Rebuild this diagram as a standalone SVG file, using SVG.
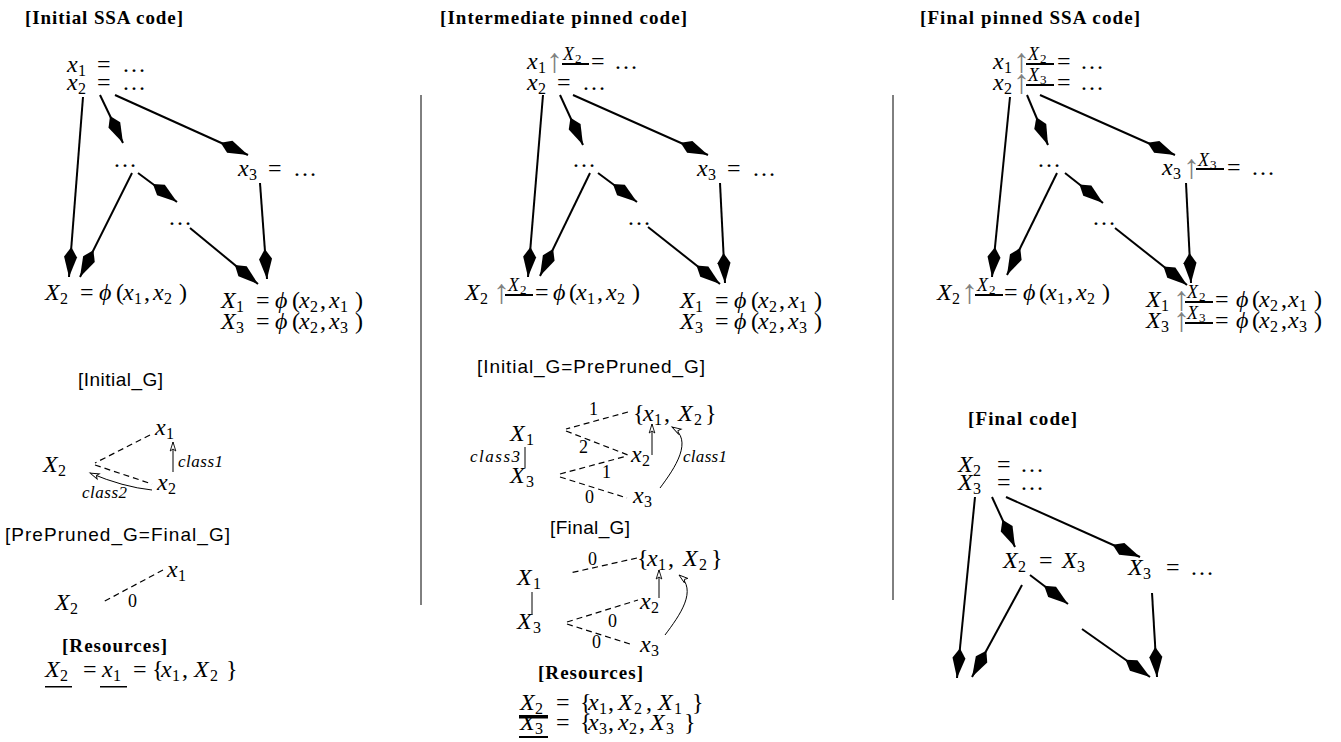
<svg xmlns="http://www.w3.org/2000/svg" width="1341" height="742" viewBox="0 0 1341 742">
<style>
text{fill:#000}
.m{font-family:"Liberation Serif","DejaVu Serif",serif;font-size:24px;font-style:italic}
.u{font-style:normal}
.s{font-size:16px;font-style:normal}
.t{font-size:18px}
.tt{font-size:13px;font-style:normal}
.g{fill:#808080;font-style:normal;font-size:34px}
.h{font-family:"Liberation Serif",serif;font-weight:bold;font-size:19px}
.sf{font-family:"Liberation Sans",Arial,sans-serif;font-size:19px}
.c{font-family:"Liberation Serif",serif;font-style:italic;font-size:17px}
.n{font-family:"Liberation Serif",serif;font-size:18px}
.e{stroke:#000;stroke-width:2;fill:none}
.d{stroke:#000;stroke-width:1.2;stroke-dasharray:6 4;fill:none}
.a{stroke:#000;stroke-width:1;fill:none}
.sep{stroke:#000;stroke-width:1}
</style>
<defs>
<marker id="ah" markerUnits="userSpaceOnUse" markerWidth="32" markerHeight="16" viewBox="-31 -8 32 16" refX="0" refY="0" orient="auto"><path d="M0,0 L-20,-6.5 L-30,0 L-20,6.5 Z" fill="#000"/></marker>
<marker id="oa" markerUnits="userSpaceOnUse" markerWidth="14" markerHeight="10" viewBox="-11 -5 14 10" refX="0" refY="0" orient="auto"><path d="M0,0 L-9,-2.8 L-7,0 L-9,2.8 Z" fill="#fff" stroke="#000" stroke-width="0.9"/></marker>
</defs>

<g id="titles">
<text class="h" x="25" y="24" textLength="158">[Initial SSA code]</text>
<text class="h" x="440" y="24" textLength="247">[Intermediate pinned code]</text>
<text class="h" x="920" y="24" textLength="220">[Final pinned SSA code]</text>
<text class="sf" x="78" y="386" textLength="85">[Initial_G]</text>
<text class="sf" x="5" y="541" textLength="225">[PrePruned_G=Final_G]</text>
<text class="h" x="62" y="652" textLength="105">[Resources]</text>
<text class="sf" x="477" y="373" textLength="228">[Initial_G=PrePruned_G]</text>
<text class="sf" x="550" y="534" textLength="80">[Final_G]</text>
<text class="h" x="538" y="679" textLength="105">[Resources]</text>
<text class="h" x="968" y="425" textLength="109">[Final code]</text>
</g>

<g id="separators">
<line class="sep" x1="421" y1="95" x2="421" y2="605"/>
<line class="sep" x1="893" y1="95" x2="893" y2="600"/>
</g>

<!-- LEFT: initial SSA code -->
<g id="l-x1"><text class="m"><tspan x="67" y="72">x</tspan><tspan class="s" x="78" y="76">1</tspan><tspan class="u" x="97" y="72">=</tspan><tspan class="u" x="122" y="72">…</tspan></text></g>
<g id="l-x2"><text class="m"><tspan x="67" y="90">x</tspan><tspan class="s" x="78" y="94">2</tspan><tspan class="u" x="97" y="90">=</tspan><tspan class="u" x="122" y="90">…</tspan></text></g>
<g id="l-dots1"><text class="m u" x="113" y="167">…</text></g>
<g id="l-x3"><text class="m"><tspan x="238" y="176">x</tspan><tspan class="s" x="249" y="180">3</tspan><tspan class="u" x="268" y="176">=</tspan><tspan class="u" x="293" y="176">…</tspan></text></g>
<g id="l-dots2"><text class="m u" x="168" y="225">…</text></g>
<g id="l-X2"><text class="m"><tspan x="45" y="300">X</tspan><tspan class="s" x="60" y="304">2</tspan><tspan class="u" x="80" y="300">=</tspan><tspan x="99" y="300">ϕ</tspan><tspan class="u" x="116" y="300">(</tspan><tspan x="123" y="300">x</tspan><tspan class="s" x="134" y="304">1</tspan><tspan class="u" x="144" y="300">,</tspan><tspan x="153" y="300">x</tspan><tspan class="s" x="164" y="304">2</tspan><tspan class="u" x="179" y="300">)</tspan></text></g>
<g id="l-X1X3"><text class="m"><tspan x="221" y="308">X</tspan><tspan class="s" x="236" y="312">1</tspan><tspan class="u" x="256" y="308">=</tspan><tspan x="275" y="308">ϕ</tspan><tspan class="u" x="292" y="308">(</tspan><tspan x="299" y="308">x</tspan><tspan class="s" x="310" y="312">2</tspan><tspan class="u" x="320" y="308">,</tspan><tspan x="329" y="308">x</tspan><tspan class="s" x="340" y="312">1</tspan><tspan class="u" x="355" y="308">)</tspan></text>
<text class="m"><tspan x="221" y="329">X</tspan><tspan class="s" x="236" y="333">3</tspan><tspan class="u" x="256" y="329">=</tspan><tspan x="275" y="329">ϕ</tspan><tspan class="u" x="292" y="329">(</tspan><tspan x="299" y="329">x</tspan><tspan class="s" x="310" y="333">2</tspan><tspan class="u" x="320" y="329">,</tspan><tspan x="329" y="329">x</tspan><tspan class="s" x="340" y="333">3</tspan><tspan class="u" x="355" y="329">)</tspan></text></g>

<!-- LEFT graphs -->
<g id="lg-x1"><text class="m"><tspan x="155" y="435">x</tspan><tspan class="s" x="166" y="439">1</tspan></text></g>
<g id="lg-X2"><text class="m"><tspan x="43" y="472">X</tspan><tspan class="s" x="58" y="476">2</tspan></text></g>
<g id="lg-x2"><text class="m"><tspan x="157" y="490">x</tspan><tspan class="s" x="168" y="494">2</tspan></text></g>
<g id="lg-class1"><text class="c" x="178" y="467" textLength="45">class1</text></g>
<g id="lg-class2"><text class="c" x="82" y="498" textLength="45">class2</text></g>
<g id="lp-x1"><text class="m"><tspan x="167" y="577">x</tspan><tspan class="s" x="178" y="581">1</tspan></text></g>
<g id="lp-X2"><text class="m"><tspan x="55" y="610">X</tspan><tspan class="s" x="70" y="614">2</tspan></text></g>
<g id="lp-0"><text class="n" x="128" y="607">0</text></g>
<g id="l-res"><text class="m"><tspan x="45" y="677">X</tspan><tspan class="s" x="60" y="681">2</tspan><tspan class="u" x="83" y="677">=</tspan><tspan x="102" y="677">x</tspan><tspan class="s" x="113" y="681">1</tspan><tspan class="u" x="133" y="677">=</tspan><tspan class="u" x="152" y="677">{</tspan><tspan x="161" y="677">x</tspan><tspan class="s" x="172" y="681">1</tspan><tspan class="u" x="182" y="677">,</tspan><tspan x="194" y="677">X</tspan><tspan class="s" x="210" y="681">2</tspan><tspan class="u" x="226" y="677">}</tspan></text>
<rect x="45" y="686" width="27" height="1.5"/><rect x="100" y="686" width="27" height="1.5"/></g>

<!-- MIDDLE: intermediate pinned code -->
<g id="m-x1"><text class="m"><tspan x="527" y="69">x</tspan><tspan class="s" x="538" y="73">1</tspan><tspan class="g" x="546" y="72">↑</tspan><tspan class="t" x="563" y="60">X</tspan><tspan class="tt" x="575" y="63">2</tspan><tspan class="u" x="591" y="69">=</tspan><tspan class="u" x="614" y="69">…</tspan></text><rect x="562" y="63" width="27" height="2"/></g>
<g id="m-x2"><text class="m"><tspan x="527" y="90">x</tspan><tspan class="s" x="538" y="94">2</tspan><tspan class="u" x="557" y="90">=</tspan><tspan class="u" x="582" y="90">…</tspan></text></g>
<g id="m-dots1"><text class="m u" x="572" y="167">…</text></g>
<g id="m-x3"><text class="m"><tspan x="697" y="176">x</tspan><tspan class="s" x="708" y="180">3</tspan><tspan class="u" x="727" y="176">=</tspan><tspan class="u" x="752" y="176">…</tspan></text></g>
<g id="m-dots2"><text class="m u" x="627" y="225">…</text></g>
<g id="m-X2"><text class="m"><tspan x="465" y="300">X</tspan><tspan class="s" x="480" y="304">2</tspan><tspan class="g" x="493" y="303">↑</tspan><tspan class="t" x="508" y="291">X</tspan><tspan class="tt" x="520" y="294">2</tspan><tspan class="u" x="535" y="300">=</tspan><tspan x="553" y="300">ϕ</tspan><tspan class="u" x="569" y="300">(</tspan><tspan x="576" y="300">x</tspan><tspan class="s" x="587" y="304">1</tspan><tspan class="u" x="597" y="300">,</tspan><tspan x="606" y="300">x</tspan><tspan class="s" x="617" y="304">2</tspan><tspan class="u" x="632" y="300">)</tspan></text><rect x="505" y="294" width="28" height="2"/></g>
<g id="m-X1X3"><text class="m"><tspan x="680" y="308">X</tspan><tspan class="s" x="695" y="312">1</tspan><tspan class="u" x="715" y="308">=</tspan><tspan x="734" y="308">ϕ</tspan><tspan class="u" x="751" y="308">(</tspan><tspan x="758" y="308">x</tspan><tspan class="s" x="769" y="312">2</tspan><tspan class="u" x="779" y="308">,</tspan><tspan x="788" y="308">x</tspan><tspan class="s" x="799" y="312">1</tspan><tspan class="u" x="814" y="308">)</tspan></text>
<text class="m"><tspan x="680" y="329">X</tspan><tspan class="s" x="695" y="333">3</tspan><tspan class="u" x="715" y="329">=</tspan><tspan x="734" y="329">ϕ</tspan><tspan class="u" x="751" y="329">(</tspan><tspan x="758" y="329">x</tspan><tspan class="s" x="769" y="333">2</tspan><tspan class="u" x="779" y="329">,</tspan><tspan x="788" y="329">x</tspan><tspan class="s" x="799" y="333">3</tspan><tspan class="u" x="814" y="329">)</tspan></text></g>

<!-- MIDDLE graph 1 -->
<g id="g1-set"><text class="m"><tspan class="u" x="633" y="421">{</tspan><tspan x="643" y="421">x</tspan><tspan class="s" x="654" y="425">1</tspan><tspan class="u" x="664" y="421">,</tspan><tspan x="678" y="421">X</tspan><tspan class="s" x="694" y="425">2</tspan><tspan class="u" x="705" y="421">}</tspan></text></g>
<g id="g1-X1"><text class="m"><tspan x="510" y="441">X</tspan><tspan class="s" x="526" y="445">1</tspan></text></g>
<g id="g1-X3"><text class="m"><tspan x="510" y="483">X</tspan><tspan class="s" x="526" y="487">3</tspan></text></g>
<g id="g1-x2"><text class="m"><tspan x="631" y="462">x</tspan><tspan class="s" x="642" y="466">2</tspan></text></g>
<g id="g1-x3"><text class="m"><tspan x="633" y="503">x</tspan><tspan class="s" x="644" y="507">3</tspan></text></g>
<g id="g1-labels"><text class="c" x="470" y="462" textLength="50">class3</text><text class="c" x="683" y="462" textLength="44">class1</text>
<text class="n" x="589" y="415">1</text><text class="n" x="579" y="453">2</text><text class="n" x="602" y="478">1</text><text class="n" x="585" y="503">0</text></g>

<!-- MIDDLE graph 2 -->
<g id="g2-set"><text class="m"><tspan class="u" x="637" y="566">{</tspan><tspan x="647" y="566">x</tspan><tspan class="s" x="658" y="570">1</tspan><tspan class="u" x="668" y="566">,</tspan><tspan x="683" y="566">X</tspan><tspan class="s" x="699" y="570">2</tspan><tspan class="u" x="711" y="566">}</tspan></text></g>
<g id="g2-X1"><text class="m"><tspan x="517" y="585">X</tspan><tspan class="s" x="533" y="589">1</tspan></text></g>
<g id="g2-X3"><text class="m"><tspan x="517" y="629">X</tspan><tspan class="s" x="533" y="633">3</tspan></text></g>
<g id="g2-x2"><text class="m"><tspan x="640" y="609">x</tspan><tspan class="s" x="651" y="613">2</tspan></text></g>
<g id="g2-x3"><text class="m"><tspan x="640" y="652">x</tspan><tspan class="s" x="651" y="656">3</tspan></text></g>
<g id="g2-labels"><text class="n" x="588" y="565">0</text><text class="n" x="608" y="627">0</text><text class="n" x="592" y="648">0</text></g>

<!-- MIDDLE resources -->
<g id="m-res"><text class="m"><tspan x="520" y="710">X</tspan><tspan class="s" x="535" y="714">2</tspan><tspan class="u" x="556" y="710">=</tspan><tspan class="u" x="580" y="710">{</tspan><tspan x="588" y="710">x</tspan><tspan class="s" x="599" y="714">1</tspan><tspan class="u" x="608" y="710">,</tspan><tspan x="618" y="710">X</tspan><tspan class="s" x="634" y="714">2</tspan><tspan class="u" x="646" y="710">,</tspan><tspan x="658" y="710">X</tspan><tspan class="s" x="674" y="714">1</tspan><tspan class="u" x="692" y="710">}</tspan></text>
<text class="m"><tspan x="520" y="730">X</tspan><tspan class="s" x="535" y="734">3</tspan><tspan class="u" x="556" y="730">=</tspan><tspan class="u" x="580" y="730">{</tspan><tspan x="588" y="730">x</tspan><tspan class="s" x="599" y="734">3</tspan><tspan class="u" x="608" y="730">,</tspan><tspan x="618" y="730">x</tspan><tspan class="s" x="629" y="734">2</tspan><tspan class="u" x="639" y="730">,</tspan><tspan x="650" y="730">X</tspan><tspan class="s" x="666" y="734">3</tspan><tspan class="u" x="684" y="730">}</tspan></text>
<rect x="519" y="715" width="29" height="3.5"/><rect x="519" y="736" width="29" height="2"/></g>

<!-- RIGHT: final pinned SSA code -->
<g id="r-x1"><text class="m"><tspan x="993" y="69">x</tspan><tspan class="s" x="1004" y="73">1</tspan><tspan class="g" x="1013" y="72">↑</tspan><tspan class="t" x="1028" y="60">X</tspan><tspan class="tt" x="1040" y="63">2</tspan><tspan class="u" x="1057" y="69">=</tspan><tspan class="u" x="1080" y="69">…</tspan></text><rect x="1026" y="63" width="28" height="2"/></g>
<g id="r-x2"><text class="m"><tspan x="993" y="90">x</tspan><tspan class="s" x="1004" y="94">2</tspan><tspan class="g" x="1013" y="93">↑</tspan><tspan class="t" x="1028" y="81">X</tspan><tspan class="tt" x="1040" y="84">3</tspan><tspan class="u" x="1057" y="90">=</tspan><tspan class="u" x="1080" y="90">…</tspan></text><rect x="1026" y="84" width="28" height="2"/></g>
<g id="r-dots1"><text class="m u" x="1037" y="167">…</text></g>
<g id="r-x3"><text class="m"><tspan x="1162" y="175">x</tspan><tspan class="s" x="1173" y="179">3</tspan><tspan class="g" x="1183" y="178">↑</tspan><tspan class="t" x="1198" y="166">X</tspan><tspan class="tt" x="1210" y="169">3</tspan><tspan class="u" x="1227" y="175">=</tspan><tspan class="u" x="1251" y="175">…</tspan></text><rect x="1196" y="168" width="28" height="2"/></g>
<g id="r-dots2"><text class="m u" x="1092" y="225">…</text></g>
<g id="r-X2"><text class="m"><tspan x="937" y="300">X</tspan><tspan class="s" x="952" y="304">2</tspan><tspan class="g" x="961" y="303">↑</tspan><tspan class="t" x="977" y="291">X</tspan><tspan class="tt" x="989" y="294">2</tspan><tspan class="u" x="1004" y="300">=</tspan><tspan x="1023" y="300">ϕ</tspan><tspan class="u" x="1039" y="300">(</tspan><tspan x="1046" y="300">x</tspan><tspan class="s" x="1057" y="304">1</tspan><tspan class="u" x="1067" y="300">,</tspan><tspan x="1076" y="300">x</tspan><tspan class="s" x="1087" y="304">2</tspan><tspan class="u" x="1102" y="300">)</tspan></text><rect x="975" y="294" width="28" height="2"/></g>
<g id="r-X1X3"><text class="m"><tspan x="1146" y="307">X</tspan><tspan class="s" x="1161" y="311">1</tspan><tspan class="g" x="1173" y="310">↑</tspan><tspan class="t" x="1187" y="298">X</tspan><tspan class="tt" x="1199" y="301">2</tspan><tspan class="u" x="1215" y="307">=</tspan><tspan x="1236" y="307">ϕ</tspan><tspan class="u" x="1252" y="307">(</tspan><tspan x="1259" y="307">x</tspan><tspan class="s" x="1270" y="311">2</tspan><tspan class="u" x="1281" y="307">,</tspan><tspan x="1288" y="307">x</tspan><tspan class="s" x="1299" y="311">1</tspan><tspan class="u" x="1314" y="307">)</tspan></text><rect x="1185" y="301" width="28" height="2"/>
<text class="m"><tspan x="1146" y="328">X</tspan><tspan class="s" x="1161" y="332">3</tspan><tspan class="g" x="1173" y="331">↑</tspan><tspan class="t" x="1187" y="319">X</tspan><tspan class="tt" x="1199" y="322">3</tspan><tspan class="u" x="1215" y="328">=</tspan><tspan x="1236" y="328">ϕ</tspan><tspan class="u" x="1252" y="328">(</tspan><tspan x="1259" y="328">x</tspan><tspan class="s" x="1270" y="332">2</tspan><tspan class="u" x="1281" y="328">,</tspan><tspan x="1288" y="328">x</tspan><tspan class="s" x="1299" y="332">3</tspan><tspan class="u" x="1314" y="328">)</tspan></text><rect x="1185" y="322" width="28" height="2"/></g>

<!-- RIGHT: final code -->
<g id="f-X2"><text class="m"><tspan x="958" y="472">X</tspan><tspan class="s" x="973" y="476">2</tspan><tspan class="u" x="997" y="472">=</tspan><tspan class="u" x="1020" y="472">…</tspan></text></g>
<g id="f-X3"><text class="m"><tspan x="958" y="490">X</tspan><tspan class="s" x="973" y="494">3</tspan><tspan class="u" x="997" y="490">=</tspan><tspan class="u" x="1020" y="490">…</tspan></text></g>
<g id="f-X2X3"><text class="m"><tspan x="1003" y="568">X</tspan><tspan class="s" x="1018" y="572">2</tspan><tspan class="u" x="1039" y="568">=</tspan><tspan x="1062" y="568">X</tspan><tspan class="s" x="1077" y="572">3</tspan></text></g>
<g id="f-X3b"><text class="m"><tspan x="1128" y="575">X</tspan><tspan class="s" x="1143" y="579">3</tspan><tspan class="u" x="1166" y="575">=</tspan><tspan class="u" x="1190" y="575">…</tspan></text></g>

<!-- connectors -->
<g id="connectors">
<g id="cfg-edges" class="e">
<line x1="83" y1="97" x2="69" y2="277" marker-end="url(#ah)"/>
<line x1="132" y1="173" x2="80" y2="277" marker-end="url(#ah)"/>
<line x1="100" y1="95" x2="123" y2="143" marker-end="url(#ah)"/>
<line x1="115" y1="95" x2="248" y2="155" marker-end="url(#ah)"/>
<line x1="138" y1="173" x2="177" y2="202" marker-end="url(#ah)"/>
<line x1="190" y1="228" x2="258" y2="284" marker-end="url(#ah)"/>
<line x1="260" y1="183" x2="267" y2="279" marker-end="url(#ah)"/>

<line x1="543" y1="95" x2="528" y2="277" marker-end="url(#ah)"/>
<line x1="590" y1="173" x2="540" y2="276" marker-end="url(#ah)"/>
<line x1="560" y1="95" x2="583" y2="145" marker-end="url(#ah)"/>
<line x1="573" y1="95" x2="708" y2="155" marker-end="url(#ah)"/>
<line x1="598" y1="173" x2="637" y2="202" marker-end="url(#ah)"/>
<line x1="648" y1="227" x2="720" y2="284" marker-end="url(#ah)"/>
<line x1="720" y1="183" x2="725" y2="283" marker-end="url(#ah)"/>

<line x1="1010" y1="97" x2="992" y2="277" marker-end="url(#ah)"/>
<line x1="1057" y1="173" x2="1007" y2="275" marker-end="url(#ah)"/>
<line x1="1027" y1="95" x2="1048" y2="145" marker-end="url(#ah)"/>
<line x1="1040" y1="95" x2="1175" y2="155" marker-end="url(#ah)"/>
<line x1="1065" y1="173" x2="1103" y2="203" marker-end="url(#ah)"/>
<line x1="1115" y1="228" x2="1187" y2="285" marker-end="url(#ah)"/>
<line x1="1186" y1="183" x2="1191" y2="283" marker-end="url(#ah)"/>

<line x1="975" y1="497" x2="957" y2="678" marker-end="url(#ah)"/>
<line x1="1022" y1="585" x2="972" y2="677" marker-end="url(#ah)"/>
<line x1="992" y1="497" x2="1015" y2="547" marker-end="url(#ah)"/>
<line x1="1006" y1="497" x2="1140" y2="557" marker-end="url(#ah)"/>
<line x1="1030" y1="575" x2="1068" y2="604" marker-end="url(#ah)"/>
<line x1="1082" y1="629" x2="1150" y2="677" marker-end="url(#ah)"/>
<line x1="1152" y1="593" x2="1157" y2="677" marker-end="url(#ah)"/>
</g>
<g id="graph-edges">
<line class="d" x1="150" y1="435" x2="95" y2="463"/>
<line class="d" x1="95" y1="465" x2="152" y2="484"/>
<line class="a" x1="173" y1="472" x2="173" y2="442" marker-end="url(#oa)"/>
<path class="a" d="M152,490 Q123,487 90,473" marker-end="url(#oa)"/>
<line class="d" x1="163" y1="570" x2="103" y2="602"/>

<line class="d" x1="628" y1="412" x2="566" y2="429"/>
<line class="d" x1="566" y1="431" x2="628" y2="455"/>
<line class="d" x1="560" y1="474" x2="627" y2="456"/>
<line class="d" x1="560" y1="477" x2="627" y2="498"/>
<line class="a" x1="652" y1="455" x2="652" y2="424" marker-end="url(#oa)"/>
<path class="a" d="M660,488 C675,468 694,440 672,427" marker-end="url(#oa)"/>
<line class="a" x1="525" y1="447" x2="525" y2="468"/>

<line class="d" x1="637" y1="558" x2="570" y2="573"/>
<line class="d" x1="567" y1="622" x2="638" y2="600"/>
<line class="d" x1="567" y1="624" x2="633" y2="645"/>
<line class="a" x1="659" y1="598" x2="659" y2="570" marker-end="url(#oa)"/>
<path class="a" d="M665,635 C680,615 698,590 679,575" marker-end="url(#oa)"/>
<line class="a" x1="532" y1="592" x2="532" y2="615"/>
</g>
</g>
</svg>
